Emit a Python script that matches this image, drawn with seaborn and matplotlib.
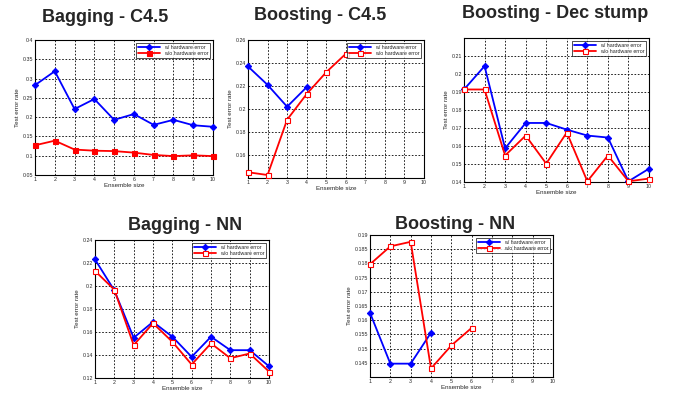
import seaborn as sns
import matplotlib.pyplot as plt
import numpy as np
import pandas as pd

# ensemble sizes
sizes = list(range(1, 11))

# Bagging - C4.5
bag_c45_w = [0.283, 0.319, 0.221, 0.247, 0.193, 0.208, 0.180, 0.193, 0.179, 0.175]
bag_c45_wo = [0.127, 0.139, 0.116, 0.113, 0.112, 0.108, 0.102, 0.099, 0.101, 0.099]

# Boosting - C4.5
boo_c45_w = [0.237, 0.221, 0.202, 0.219]
boo_c45_wo = [0.145, 0.1426, 0.1907, 0.213, 0.232, 0.248]

# Boosting - Dec stump
boo_ds_w = [0.1914, 0.2044, 0.1587, 0.1728, 0.1728, 0.1691, 0.1658, 0.1647, 0.1404, 0.1474]
boo_ds_wo = [0.1914, 0.1914, 0.1547, 0.1658, 0.1502, 0.1675, 0.1404, 0.1547, 0.1404, 0.1419]

# Bagging - NN
bag_nn_w = [0.2231, 0.1962, 0.155, 0.1688, 0.1559, 0.1384, 0.1559, 0.1442, 0.1442, 0.1302]
bag_nn_wo = [0.2131, 0.1968, 0.1486, 0.1676, 0.1515, 0.1317, 0.1501, 0.1372, 0.1413, 0.1256]

# Boosting - NN
boo_nn_w = [0.1626, 0.1447, 0.1447, 0.1556]
boo_nn_wo = [0.1797, 0.186, 0.1876, 0.143, 0.1511, 0.1573]

labels = ['w/ hardware error', 'w/o hardware error']

sns.set_style('white')
plt.rcParams['font.family'] = ['Liberation Sans', 'DejaVu Sans']

W, H = 677, 394
fig = plt.figure(figsize=(W / 100, H / 100), dpi=100)


def box(x0, x1, y0, y1):
    return [x0 / W, 1 - y1 / H, (x1 - x0) / W, (y1 - y0) / H]


panels = [
    # title, title pos, axes box, w, wo, ylim, yticks, red filled
    ('Bagging - C4.5', (105, 17), box(35, 213, 40, 175), bag_c45_w, bag_c45_wo,
     (0.05, 0.4), np.arange(0.05, 0.401, 0.05), True),
    ('Boosting - C4.5', (320, 15), box(248, 424, 40, 178), boo_c45_w, boo_c45_wo,
     (0.14, 0.26), np.arange(0.16, 0.261, 0.02), False),
    ('Boosting - Dec stump', (555, 14), box(464, 649, 38, 182), boo_ds_w, boo_ds_wo,
     (0.14, 0.22), np.arange(0.14, 0.2101, 0.01), False),
    ('Bagging - NN', (185, 225), box(95, 269, 240, 378), bag_nn_w, bag_nn_wo,
     (0.12, 0.24), np.arange(0.12, 0.241, 0.02), False),
    ('Boosting - NN', (455, 224), box(370, 553, 235, 377), boo_nn_w, boo_nn_wo,
     (0.14, 0.19), np.arange(0.145, 0.1901, 0.005), False),
]

for title, (tx, ty), rect, w, wo, ylim, yticks, filled in panels:
    ax = fig.add_axes(rect)
    df_w = pd.DataFrame({'size': sizes[:len(w)], 'err': w})
    df_wo = pd.DataFrame({'size': sizes[:len(wo)], 'err': wo})
    sns.lineplot(data=df_w, x='size', y='err', ax=ax, color='#0000ff', lw=1.3,
                 marker='D', markersize=3.2, markeredgecolor='#0000ff',
                 label=labels[0], clip_on=False, zorder=3)
    sns.lineplot(data=df_wo, x='size', y='err', ax=ax, color='#ff0000', lw=1.3,
                 marker='s', markersize=3.6, markeredgecolor='#ff0000',
                 markerfacecolor='#ff0000' if filled else 'white',
                 markeredgewidth=0.8, label=labels[1], clip_on=False, zorder=3)
    ax.set_xlim(1, 10)
    ax.set_ylim(*ylim)
    ax.set_xticks(sizes)
    ax.set_yticks(yticks)
    ax.set_yticklabels([('%.3f' % t).rstrip('0').rstrip('.') for t in yticks])
    ax.grid(True, color='black', linestyle=(0, (2, 2)), lw=0.6)
    ax.tick_params(labelsize=3.8, direction='in', length=2, width=0.5, pad=1.5)
    for s in ax.spines.values():
        s.set_color('black')
        s.set_linewidth(0.8)
    ax.set_xlabel('Ensemble size', fontsize=4.5, labelpad=1)
    ax.set_ylabel('Test error rate', fontsize=4.5, labelpad=2)
    leg = ax.legend(loc='upper right', fontsize=3.8, frameon=True, fancybox=False,
                    edgecolor='black', borderpad=0.4, handlelength=4,
                    labelspacing=0.3)
    leg.get_frame().set_linewidth(0.6)
    leg.set_zorder(5)
    fig.text(tx / W, 1 - ty / H, title, ha='center', va='center',
             fontsize=13, fontweight='bold')

fig.savefig('out.png', dpi=100)
